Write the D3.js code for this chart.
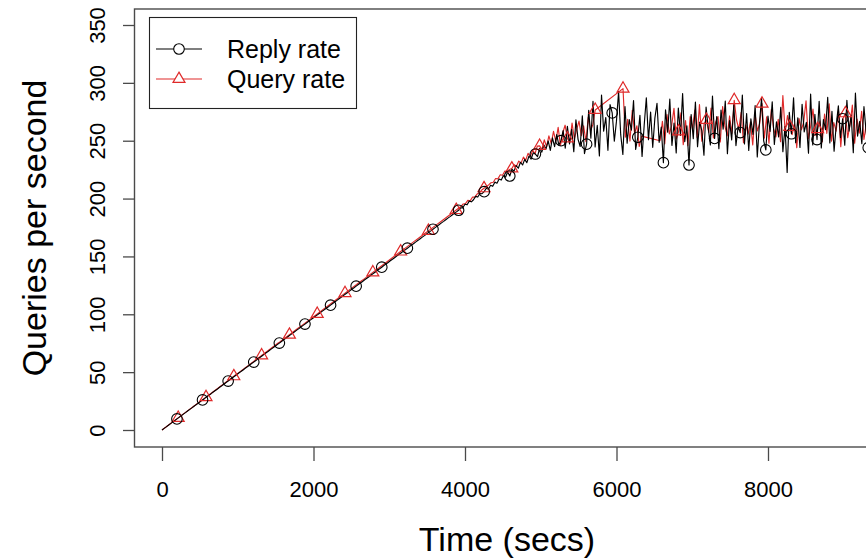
<!DOCTYPE html>
<html>
<head>
<meta charset="utf-8">
<script src="https://cdn.jsdelivr.net/npm/d3@7"></script>
<style>
  html, body { margin: 0; padding: 0; background: #fff; }
  svg { display: block; font-family: "Liberation Sans", Arial, Helvetica, sans-serif; }
</style>
</head>
<body>
<svg id="chart" width="866" height="560"></svg>
<script>
// ---------------- data ----------------
const xTicks = [0, 2000, 4000, 6000, 8000];
const yTicks = [0, 50, 100, 150, 200, 250, 300, 350];
const seriesNames = ["Reply rate", "Query rate"];

// Reply rate: one sample every 28.17 s starting at t = 0
const replyStep = 28.1667;
const replyRate = [
  0.0, 1.4, 2.7, 4.1, 5.5, 6.8, 8.2, 9.6, 10.9, 12.3,
  13.7, 15.0, 16.4, 17.8, 19.1, 20.5, 21.9, 23.2, 24.6, 26.0,
  27.3, 28.7, 30.1, 31.4, 32.8, 34.2, 35.5, 36.9, 38.2, 39.6,
  41.0, 42.3, 43.7, 45.1, 46.4, 47.8, 49.2, 50.5, 51.9, 53.3,
  54.6, 56.0, 57.4, 58.7, 60.1, 61.5, 62.8, 64.2, 65.6, 66.9,
  68.3, 69.7, 71.0, 72.4, 73.8, 75.1, 76.5, 77.9, 79.2, 80.6,
  82.0, 83.3, 84.7, 86.1, 87.4, 88.8, 90.2, 91.5, 92.9, 94.3,
  95.6, 97.0, 98.4, 99.7, 101.1, 102.5, 103.8, 105.2, 106.5, 107.9,
  109.3, 110.6, 112.0, 113.4, 114.7, 116.1, 117.5, 118.8, 120.2, 121.6,
  122.9, 124.3, 125.7, 127.0, 128.4, 129.8, 131.1, 132.5, 133.9, 135.2,
  136.6, 138.0, 139.3, 140.7, 142.1, 143.4, 144.8, 146.2, 147.5, 148.9,
  150.3, 151.6, 153.0, 154.4, 155.7, 157.1, 158.5, 159.8, 161.2, 162.6,
  163.9, 165.3, 166.7, 168.0, 169.4, 170.8, 172.1, 173.5, 174.9, 176.2,
  177.6, 179.0, 180.3, 181.7, 183.1, 184.4, 185.8, 187.2, 188.5, 189.9,
  191.9, 192.0, 195.1, 194.6, 197.8, 197.2, 199.0, 201.9, 201.3, 204.4,
  204.2, 206.0, 208.9, 208.1, 211.5, 210.6, 214.2, 213.3, 216.9, 216.0,
  219.8, 218.5, 222.9, 219.5, 225.3, 223.7, 228.6, 226.2, 231.4, 229.0,
  233.9, 231.0, 236.8, 234.1, 239.6, 238.5, 236.2, 243.5, 240.1, 246.3,
  243.0, 249.8, 241.7, 252.4, 244.9, 255.3, 246.1, 250.0, 258.7, 243.5,
  262.4, 247.3, 259.8, 240.6, 268.1, 251.2, 245.0, 271.5, 238.9, 247.0,
  276.3, 252.1, 284.0, 244.6, 263.2, 236.8, 289.5, 258.3, 270.1, 241.7,
  281.2, 274.0, 249.5, 266.9, 292.4, 255.0, 238.2, 279.6, 247.8, 268.3,
  259.1, 284.7, 242.5, 253.0, 271.9, 236.4, 263.6, 287.1, 250.9, 274.8,
  244.3, 269.5, 282.3, 248.6, 261.7, 231.0, 276.8, 257.4, 285.9, 246.0,
  265.3, 239.4, 278.2, 254.6, 290.7, 249.2, 262.8, 229.0, 272.6, 251.8,
  283.4, 244.9, 266.0, 258.7, 237.5, 279.1, 261.2, 246.4, 288.6, 252.0,
  270.8, 243.1, 276.5, 259.9, 284.2, 238.7, 267.4, 250.6, 281.0, 245.8,
  262.1, 257.0, 289.4, 247.2, 273.5, 241.6, 268.9, 255.4, 280.3, 236.0,
  264.7, 286.8, 249.9, 242.0, 271.2, 258.1, 283.6, 246.7, 266.4, 253.2,
  278.9, 240.5, 262.3, 222.5, 274.6, 256.0, 287.0, 248.3, 269.8, 244.1,
  281.5, 257.6, 265.9, 239.2, 290.3, 246.4, 272.7, 251.0, 284.1, 243.7,
  268.2, 259.5, 287.6, 248.1, 275.3, 241.0, 263.4, 280.2, 252.6, 269.0,
  246.2, 284.9, 258.3, 272.1, 239.6, 291.2, 254.0, 266.7, 247.5, 279.4,
  257.8, 244.0, 270.5
];

// Query rate: one sample every 30.58 s starting at t = 0 (null = missing sample)
const queryStep = 30.583;
const queryRate = [
  0.0, 1.5, 3.0, 4.5, 6.0, 7.5, 9.0, 10.5, 12.0, 13.5,
  15.0, 16.5, 18.0, 19.5, 21.0, 22.5, 24.0, 25.4, 26.9, 28.4,
  29.9, 31.4, 32.9, 34.4, 35.9, 37.4, 38.9, 40.4, 41.9, 43.4,
  44.9, 46.4, 47.9, 49.4, 50.9, 52.4, 53.9, 55.4, 56.9, 58.4,
  59.9, 61.4, 62.9, 64.4, 65.9, 67.4, 68.9, 70.4, 71.9, 73.4,
  74.9, 76.3, 77.8, 79.3, 80.8, 82.3, 83.8, 85.3, 86.8, 88.3,
  89.8, 91.3, 92.8, 94.3, 95.8, 97.3, 98.8, 100.3, 101.8, 103.3,
  104.8, 106.3, 107.8, 109.3, 110.8, 112.3, 113.8, 115.3, 116.8, 118.3,
  119.8, 121.3, 122.8, 124.3, 125.7, 127.2, 128.7, 130.2, 131.7, 133.2,
  134.7, 136.2, 137.7, 139.2, 140.7, 142.2, 143.7, 145.2, 146.7, 148.2,
  149.7, 151.2, 152.7, 154.2, 155.7, 157.2, 158.7, 160.2, 161.7, 163.2,
  164.7, 166.2, 167.7, 169.2, 170.7, 172.1, 173.6, 175.1, 176.6, 178.1,
  179.6, 181.1, 182.6, 184.1, 185.6, 187.1, 188.6, 190.1, 191.6, 193.1,
  195.3, 195.6, 198.4, 198.0, 201.2, 201.3, 203.9, 205.0, 207.4, 208.9,
  210.2, 211.8, 213.7, 214.1, 217.3, 217.0, 220.6, 220.1, 223.8, 223.4,
  225.2, 226.0, 229.3, 228.0, 232.4, 230.6, 235.8, 233.2, 239.1, 236.4,
  241.9, 238.6, 245.3, 245.5, 242.4, 250.8, 244.9, 254.2, 247.6, 258.1,
  249.3, 261.6, 246.0, 256.9, 263.4, 252.0, 248.7, 265.2, 251.5, 259.8,
  267.0, 254.3, 262.8, 249.1, 270.5, 258.6, 264.1, 276.6, null, null,
  null, null, null, null, null, null, null, null, null, 295.0,
  253.0, 268.4, 249.7, 276.2, 256.3, 262.9, 245.1, 254.0, null, null,
  null, null, null, null, null, 250.0, 266.8, 247.3, 272.5, 255.9,
  263.2, 278.0, 251.6, 258.0, 274.1, 246.5, 267.3, 245.8, 270.9, 260.2,
  276.4, 252.9, 281.3, 249.6, 264.7, 268.0, 257.1, 278.2, 252.4, 266.0,
  270.8, 248.9, 279.6, 262.3, 254.1, 271.4, 256.2, 285.0, 267.9, 259.8,
  274.6, 248.2, 263.5, 255.7, 266.1, 246.4, 273.3, 258.5, 264.9, 282.0,
  252.1, 270.6, 247.8, 276.9, 260.4, 253.2, 268.5, 249.1, 289.0, 257.3,
  271.7, 262.0, 255.3, 264.6, 243.9, 269.2, 259.4, 266.3, 284.5, 251.8,
  262.5, 277.4, 254.6, 260.0, 267.1, 248.9, 273.0, 256.4, 281.8, 249.5,
  265.7, 258.2, 276.1, 244.8, 269.3, 273.7, 252.6, 264.0, 280.7, 247.9,
  268.8, 256.5, 275.4, 251.1, 263.9
];

// a marker is drawn on every 12th sample, starting with sample 7
const markerEvery = 12;
const markerStart = 7;

// ---------------- drawing ----------------
const svg = d3.select("#chart");
const box = { left: 134.5, top: 9, bottom: 447, right: 920 };

const x = d3.scaleLinear().domain([0, 8000]).range([162, 768]);
const y = d3.scaleLinear().domain([0, 350]).range([430, 25]);

const black = "#000000";
const red = "#df2a2a";
const frame = "#4a4a4a";

function toPoints(values, step) {
  return values.map((v, i) => ({ t: i * step, v: v, i: i })).filter(d => d.v !== null);
}
const replyPts = toPoints(replyRate, replyStep);
const queryPts = toPoints(queryRate, queryStep);

svg.append("defs").append("clipPath").attr("id", "plotclip")
  .append("rect")
  .attr("x", box.left).attr("y", box.top)
  .attr("width", box.right - box.left).attr("height", box.bottom - box.top);

const line = d3.line().x(d => x(d.t)).y(d => y(d.v));
const plot = svg.append("g").attr("clip-path", "url(#plotclip)");

// query (red) underneath, reply (black) on top
plot.append("path").datum(queryPts)
  .attr("d", line).attr("fill", "none")
  .attr("stroke", red).attr("stroke-width", 1.15).attr("stroke-linejoin", "round");
plot.append("path").datum(replyPts)
  .attr("d", line).attr("fill", "none")
  .attr("stroke", black).attr("stroke-width", 1.15).attr("stroke-linejoin", "round");

const isMarker = d => d.i >= markerStart && (d.i - markerStart) % markerEvery === 0;
const tri = d3.symbol().type(d3.symbolTriangle).size(62);

plot.selectAll("path.qmark").data(queryPts.filter(isMarker)).enter()
  .append("path").attr("class", "qmark")
  .attr("d", tri)
  .attr("transform", d => `translate(${x(d.t)},${y(d.v)})`)
  .attr("fill", "none").attr("stroke", red).attr("stroke-width", 1.2);

plot.selectAll("circle.rmark").data(replyPts.filter(isMarker)).enter()
  .append("circle").attr("class", "rmark")
  .attr("cx", d => x(d.t)).attr("cy", d => y(d.v)).attr("r", 5.3)
  .attr("fill", "none").attr("stroke", black).attr("stroke-width", 1.1);

// frame box
svg.append("rect")
  .attr("x", box.left).attr("y", box.top)
  .attr("width", box.right - box.left).attr("height", box.bottom - box.top)
  .attr("fill", "none").attr("stroke", frame).attr("stroke-width", 1.4);

// x axis
const xAxis = d3.axisBottom(x).tickValues(xTicks).tickSize(14).tickPadding(20)
  .tickFormat(d3.format("d"));
const gx = svg.append("g").attr("transform", `translate(0,${box.bottom})`).call(xAxis);
gx.select(".domain").remove();
gx.selectAll(".tick line").attr("stroke", frame).attr("stroke-width", 1.3);
gx.selectAll(".tick text").attr("font-size", 22).attr("fill", "#000")
  .attr("font-family", "'Liberation Sans', Arial, sans-serif");

// y axis
const yAxis = d3.axisLeft(y).tickValues(yTicks).tickSize(11.5).tickPadding(0)
  .tickFormat(d3.format("d"));
const gy = svg.append("g").attr("transform", `translate(${box.left},0)`).call(yAxis);
gy.select(".domain").remove();
gy.selectAll(".tick line").attr("stroke", frame).attr("stroke-width", 1.3);
gy.selectAll(".tick text")
  .attr("font-size", 22).attr("fill", "#000")
  .attr("font-family", "'Liberation Sans', Arial, sans-serif")
  .attr("x", null).attr("dy", null)
  .attr("text-anchor", "middle")
  .attr("transform", "translate(-30,0) rotate(-90)")
  .attr("y", 0);

// axis titles
svg.append("text")
  .attr("x", 507).attr("y", 551)
  .attr("text-anchor", "middle").attr("font-size", 34).attr("fill", "#000")
  .text("Time (secs)");
svg.append("text")
  .attr("transform", "translate(46,228) rotate(-90)")
  .attr("text-anchor", "middle").attr("font-size", 34).attr("fill", "#000")
  .text("Queries per second");

// legend
const lg = svg.append("g");
lg.append("rect").attr("x", 149.5).attr("y", 17.5).attr("width", 207).attr("height", 91)
  .attr("fill", "#fff").attr("stroke", "#222").attr("stroke-width", 1.1);
const legendItems = [
  { name: seriesNames[0], color: black, shape: "circle", cy: 49 },
  { name: seriesNames[1], color: red, shape: "triangle", cy: 79 }
];
legendItems.forEach(it => {
  lg.append("line").attr("x1", 156).attr("x2", 202).attr("y1", it.cy).attr("y2", it.cy)
    .attr("stroke", it.color).attr("stroke-width", 1.2);
  if (it.shape === "circle") {
    lg.append("circle").attr("cx", 179).attr("cy", it.cy).attr("r", 5.3)
      .attr("fill", "#fff").attr("stroke", it.color).attr("stroke-width", 1.1);
  } else {
    lg.append("path").attr("d", tri).attr("transform", `translate(179,${it.cy})`)
      .attr("fill", "#fff").attr("stroke", it.color).attr("stroke-width", 1.2);
  }
  lg.append("text").attr("x", 227).attr("y", it.cy + 9)
    .attr("font-size", 25).attr("fill", "#000").text(it.name);
});
</script>
</body>
</html>
